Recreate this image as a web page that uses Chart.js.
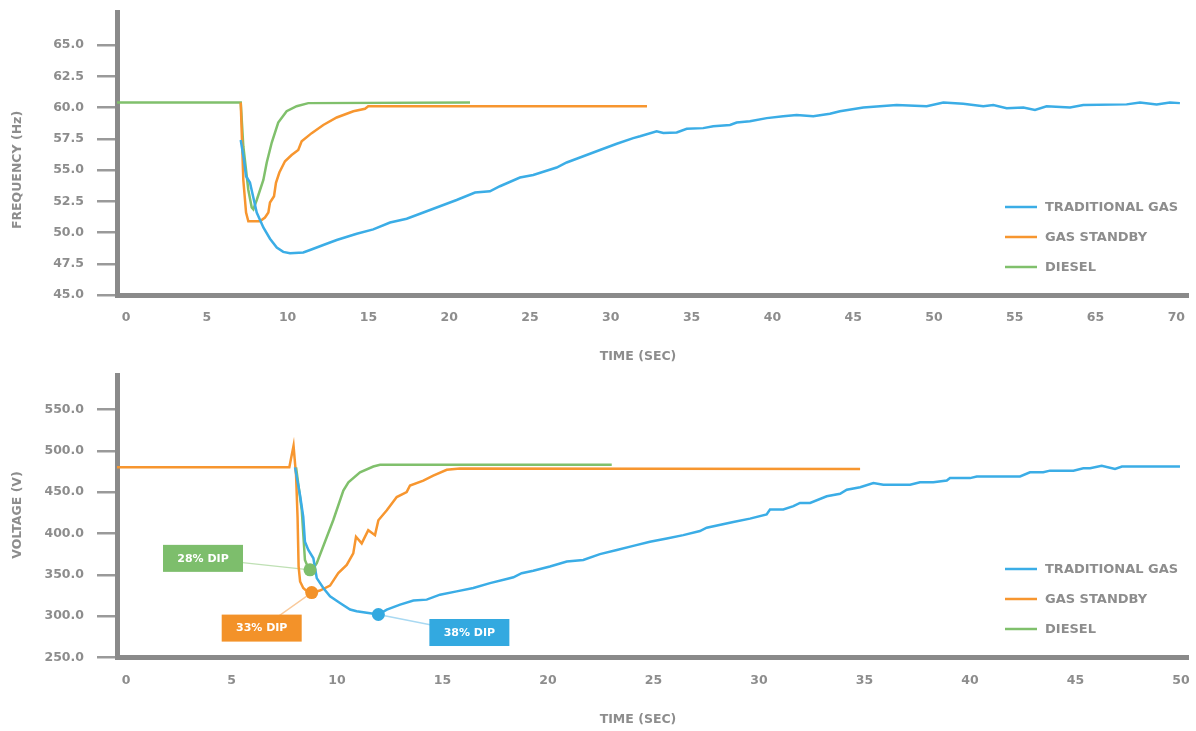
<!DOCTYPE html>
<html><head><meta charset="utf-8">
<script src="https://cdn.jsdelivr.net/npm/chart.js@4.4.0/dist/chart.umd.min.js"></script>
<style>
html,body{margin:0;padding:0;background:#fff;}
#w1{position:absolute;left:0;top:0;width:1196px;height:365px;}
#w2{position:absolute;left:0;top:365px;width:1196px;height:366px;}
</style></head><body>
<div id="w1"><canvas id="c1" width="1196" height="365"></canvas></div>
<div id="w2"><canvas id="c2" width="1196" height="366"></canvas></div>
<script>
// ---------- DATA ----------
const seriesNames = ['TRADITIONAL GAS', 'GAS STANDBY', 'DIESEL'];
const seriesColors = ['#3badE6', '#F7962F', '#80C06C'];

// Frequency chart (top)
const freqTickLabels = ['0','5','10','15','20','25','30','35','40','45','50','55','65','70'];
const freqYTicks = [45, 47.5, 50, 52.5, 55, 57.5, 60, 62.5, 65];
const freqTradTime = [7.10,7.30,7.43,7.67,7.88,8.09,8.50,8.91,9.33,9.73,10.15,10.97,11.39,12.21,13.04,14.28,15.30,16.34,17.37,18.40,19.43,20.46,21.60,22.52,23.14,24.38,25.20,26.65,27.27,28.30,29.33,30.37,31.39,31.81,32.84,33.25,34.08,34.70,35.72,36.34,37.38,37.79,38.61,39.65,40.67,41.50,42.53,43.56,44.18,45.63,47.69,49.55,50.58,51.81,53.05,53.67,54.50,55.53,56.25,56.97,58.42,59.24,61.92,62.75,63.78,64.60,65.22];
const freqTradHz = [57.4,55.8,54.5,54.0,52.8,51.6,50.4,49.5,48.8,48.45,48.35,48.4,48.6,49.0,49.4,49.9,50.25,50.8,51.1,51.6,52.1,52.6,53.2,53.3,53.7,54.4,54.6,55.2,55.6,56.1,56.6,57.1,57.55,57.7,58.1,57.97,58.0,58.3,58.35,58.5,58.6,58.8,58.9,59.15,59.3,59.4,59.3,59.5,59.7,60.0,60.2,60.1,60.4,60.3,60.1,60.2,59.95,60.0,59.8,60.1,60.0,60.2,60.25,60.4,60.25,60.4,60.35];
const freqStandbyTime = [7.10,7.26,7.43,7.57,8.29,8.60,8.81,8.91,9.16,9.28,9.49,9.84,10.25,10.66,10.87,11.49,12.21,13.04,14.07,14.79,14.99,32.24];
const freqStandbyHz = [60.4,54.2,51.6,50.9,50.9,51.2,51.6,52.4,52.9,53.97,54.8,55.7,56.2,56.6,57.3,57.95,58.6,59.2,59.7,59.9,60.1,60.1];
const freqDieselTime = [-0.6,7.10,7.26,7.57,7.78,7.88,8.09,8.50,8.71,9.02,9.42,9.94,10.56,11.28,21.29];
const freqDieselHz = [60.4,60.4,56.9,53.4,52.0,51.85,52.6,54.2,55.6,57.2,58.8,59.7,60.1,60.35,60.4];

// Voltage chart (bottom)
const voltTickLabels = ['0','5','10','15','20','25','30','35','40','45','50'];
const voltYTicks = [250, 300, 350, 400, 450, 500, 550];
const voltTradTime = [8.01,8.25,8.40,8.48,8.64,8.88,8.96,9.04,9.35,9.67,10.14,10.62,10.93,11.41,11.96,12.36,12.99,13.62,14.25,14.88,15.67,16.46,17.25,18.04,18.36,18.75,19.30,20.09,20.89,21.67,22.46,23.26,24.04,24.83,25.63,26.41,27.20,27.52,28.78,29.57,30.36,30.52,31.15,31.63,31.94,32.42,33.21,33.84,34.16,34.79,35.42,35.89,37.16,37.63,38.26,38.90,39.05,40.00,40.32,42.37,42.84,43.47,43.79,44.90,45.37,45.69,46.24,46.87,47.20,49.95];
const voltTradV = [480,446,420,390,380,370,358,346,334,324,316,308,306,304,302,308,314,319,320,326,330,334,340,345,347,352,355,360,366,368,375,380,385,390,394,398,403,407,414,418,423,429,429,433,437,437,445,448,453,456,461,459,459,462,462,464,467,467,469,469,474,474,476,476,479,479,482,478,481,481];
const voltStandbyTime = [-0.5,7.74,7.94,8.06,8.13,8.18,8.25,8.40,8.58,8.80,9.19,9.67,10.06,10.46,10.77,10.90,11.17,11.48,11.80,11.96,12.36,12.83,13.30,13.46,14.09,14.56,15.20,15.83,34.79];
const voltStandbyV = [480,480,506,470,420,360,342,334,330,328.5,331,337,352,362,376,396,388,404,398,416,428,444,450,458,464,470,477,478.5,478];
const voltDieselTime = [8.06,8.33,8.48,8.64,8.72,8.86,9.04,9.82,10.30,10.54,11.09,11.72,12.04,23.02];
const voltDieselV = [480,428,368,358,356,357,364,416,452,462,474,481,483,483];

// Dip markers (order: traditional gas, gas standby, diesel)
const dipTime = [11.96, 8.80, 8.72];
const dipVolt = [302, 328.5, 356];
const dipLabels = ['38% DIP', '33% DIP', '28% DIP'];

// ---------- STYLE ----------
const FONT = 'DejaVu Sans';
const TXT = '#8d8d8d';
const AXIS = '#8a8a8a';
const boxColors = ['#33A9E0', '#F39229', '#7DBE6C'];
const leaderColors = ['#a9d9f2', '#f9c99a', '#bfe0b4'];
const boxOffsets = [[91, 18], [-50, 35.5], [-107, -11.5]];

function pts(xs, ys){ return xs.map((x,i)=>({x:x, y:ys[i]})); }

const overlay = {
  id: 'overlay',
  beforeDatasetsDraw(chart, args, o){
    if(!o.dips) return;
    const ctx = chart.ctx, xs = chart.scales.x, ys = chart.scales.y;
    ctx.save();
    dipTime.forEach((t,i)=>{
      const px = xs.getPixelForValue(t), py = ys.getPixelForValue(dipVolt[i]);
      const cx = px + boxOffsets[i][0], cy = py + boxOffsets[i][1];
      ctx.strokeStyle = leaderColors[i]; ctx.lineWidth = 1.3;
      ctx.beginPath(); ctx.moveTo(cx, cy); ctx.lineTo(px, py); ctx.stroke();
    });
    ctx.restore();
  },
  afterDatasetsDraw(chart, args, o){
    if(!o.dips) return;
    const ctx = chart.ctx, xs = chart.scales.x, ys = chart.scales.y;
    ctx.save();
    dipTime.forEach((t,i)=>{
      const px = xs.getPixelForValue(t), py = ys.getPixelForValue(dipVolt[i]);
      const cx = px + boxOffsets[i][0], cy = py + boxOffsets[i][1];
      ctx.fillStyle = boxColors[i];
      ctx.fillRect(cx-40, cy-13.5, 80, 27);
      ctx.fillStyle = '#ffffff';
      ctx.font = 'bold 11px "' + FONT + '"';
      ctx.textAlign = 'center'; ctx.textBaseline = 'middle';
      ctx.fillText(dipLabels[i], cx, cy+0.5);
    });
    ctx.restore();
  },
  afterDraw(chart, args, o){
    const ctx = chart.ctx;
    ctx.save();
    seriesNames.forEach((n,i)=>{
      const y = o.legendY + i*30;
      ctx.strokeStyle = seriesColors[i]; ctx.lineWidth = 2.5;
      ctx.beginPath(); ctx.moveTo(1005, y); ctx.lineTo(1037, y); ctx.stroke();
      ctx.fillStyle = TXT; ctx.font = 'bold 13px "' + FONT + '"';
      ctx.textAlign = 'left'; ctx.textBaseline = 'middle';
      ctx.fillText(n, 1045, y+0.5);
    });
    ctx.fillStyle = TXT; ctx.font = 'bold 12.5px "' + FONT + '"';
    ctx.textAlign = 'center'; ctx.textBaseline = 'middle';
    ctx.fillText(o.xTitle, 638, o.xTitleY);
    ctx.translate(18, o.yTitleY); ctx.rotate(-Math.PI/2);
    ctx.fillText(o.yTitle, 0, 0);
    ctx.restore();
  }
};

function makeChart(id, cfg){
  return new Chart(document.getElementById(id), {
    type: 'line',
    data: { datasets: cfg.datasets },
    plugins: [overlay],
    options: {
      responsive: false, animation: false, devicePixelRatio: 1,
      layout: { padding: { left: 0, right: 8, top: cfg.top, bottom: 0 } },
      plugins: { legend: { display: false }, tooltip: { enabled: false },
        overlay: cfg.overlay },
      elements: { point: { radius: 0 }, line: { tension: 0, borderWidth: 2.5 } },
      scales: {
        x: {
          type: 'linear', min: cfg.xmin, max: cfg.xmax,
          afterBuildTicks: s => { s.ticks = cfg.xLabels.map((_,i)=>({value:i*5})); },
          afterFit: s => { s.height = cfg.xh; s.paddingLeft = 0; s.paddingRight = 0; s.paddingTop = 0; s.paddingBottom = 0; },
          grid: { display: false, drawTicks: false },
          border: { display: true, color: AXIS, width: 5 },
          ticks: { padding: cfg.xpad, color: TXT, font: { family: FONT, size: 12.5, weight: 'bold' },
            maxRotation: 0, autoSkip: false,
            callback: v => cfg.xLabels[Math.round(v/5)] }
        },
        y: {
          min: cfg.ymin, max: cfg.ymax,
          afterBuildTicks: s => { s.ticks = cfg.yTicks.map(v=>({value:v})); },
          afterFit: s => { s.width = 117; s.paddingTop = 0; s.paddingBottom = 0; s.paddingLeft = 0; s.paddingRight = 0; },
          grid: { display: true, drawOnChartArea: false, drawTicks: true, tickLength: 20, color: '#9a9a9a', lineWidth: 2.5 },
          border: { display: true, color: AXIS, width: 5 },
          ticks: { padding: 13, color: TXT, font: { family: FONT, size: 12.5, weight: 'bold' },
            callback: v => Number(v).toFixed(1) }
        }
      }
    }
  });
}

const lineDs = (label, xs, ys, color) => ({ label, data: pts(xs, ys), borderColor: color, backgroundColor: color, fill: false, pointRadius: 0 });

makeChart('c1', {
  datasets: [
    lineDs(seriesNames[0], freqTradTime, freqTradHz, seriesColors[0]),
    lineDs(seriesNames[1], freqStandbyTime, freqStandbyHz, seriesColors[1]),
    lineDs(seriesNames[2], freqDieselTime, freqDieselHz, seriesColors[2])
  ],
  top: 12, xmin: -0.557, xmax: 65.72, ymin: 45, ymax: 67.64, xh: 70, xpad: 15,
  xLabels: freqTickLabels, yTicks: freqYTicks,
  overlay: { legendY: 207, xTitle: 'TIME (SEC)', xTitleY: 357, yTitle: 'FREQUENCY (Hz)', yTitleY: 170, dips: false }
});

makeChart('c2', {
  datasets: [
    { label: 'DIPS', data: pts(dipTime, dipVolt), showLine: false, order: -1,
      pointRadius: 6.5, pointHoverRadius: 6.5, pointBorderWidth: 0,
      pointBackgroundColor: boxColors, pointBorderColor: boxColors },
    lineDs(seriesNames[0], voltTradTime, voltTradV, seriesColors[0]),
    lineDs(seriesNames[1], voltStandbyTime, voltStandbyV, seriesColors[1]),
    lineDs(seriesNames[2], voltDieselTime, voltDieselV, seriesColors[2])
  ],
  top: 10, xmin: -0.427, xmax: 50.33, ymin: 250, ymax: 591.7, xh: 73.5, xpad: 16,
  xLabels: voltTickLabels, yTicks: voltYTicks,
  overlay: { legendY: 204, xTitle: 'TIME (SEC)', xTitleY: 355, yTitle: 'VOLTAGE (V)', yTitleY: 150, dips: true }
});
</script>
</body></html>
